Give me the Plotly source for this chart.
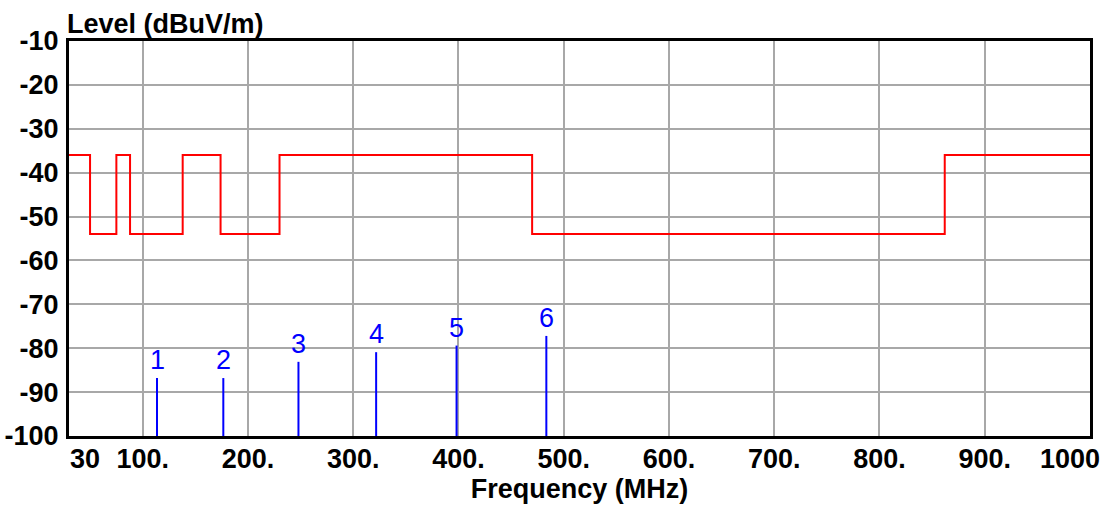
import plotly.graph_objects as go

# Limit line (step): breakpoints in MHz and level from each breakpoint on
limit_freq = [30, 50, 75, 88, 138, 174, 230, 470, 862, 1000]
limit_level = [-36, -54, -36, -54, -36, -54, -36, -54, -36, -36]

# Measured peaks (markers)
marker_ids = ["1", "2", "3", "4", "5", "6"]
marker_freq = [113.6, 176.6, 248.0, 321.8, 398.2, 483.5]
marker_level = [-86.8, -86.8, -83.1, -80.9, -79.4, -77.2]

x_tick_vals = [100, 200, 300, 400, 500, 600, 700, 800, 900]
x_tick_text = ["100.", "200.", "300.", "400.", "500.", "600.", "700.", "800.", "900."]
y_tick_vals = [-10, -20, -30, -40, -50, -60, -70, -80, -90, -100]
y_tick_text = ["-10", "-20", "-30", "-40", "-50", "-60", "-70", "-80", "-90", "-100"]

FONT = "Liberation Sans, Arial, sans-serif"

fig = go.Figure()

fig.add_trace(go.Scatter(
    x=limit_freq, y=limit_level, mode="lines", line_shape="hv",
    line=dict(color="#ff0000", width=2), hoverinfo="skip", showlegend=False))

mx, my = [], []
for f, l in zip(marker_freq, marker_level):
    mx += [f, f, None]
    my += [-100, l, None]
fig.add_trace(go.Scatter(
    x=mx, y=my, mode="lines", line=dict(color="#0000ff", width=2),
    hoverinfo="skip", showlegend=False))

annotations = []
for t, f, l in zip(marker_ids, marker_freq, marker_level):
    annotations.append(dict(x=f, y=l, xref="x", yref="y", text=t, showarrow=False,
                            yanchor="bottom", xanchor="center", yshift=1,
                            font=dict(family=FONT, size=27, color="#0000ff")))
# edge x tick labels
annotations.append(dict(x=30, y=0, xref="x", yref="paper", text="30", showarrow=False,
                        xanchor="left", yanchor="top", yshift=-6, xshift=-1,
                        font=dict(family=FONT, size=27, color="black", weight="bold")))
annotations.append(dict(x=1000, y=0, xref="x", yref="paper", text="1000", showarrow=False,
                        xanchor="right", yanchor="top", yshift=-6, xshift=12,
                        font=dict(family=FONT, size=27, color="black", weight="bold")))
annotations.append(dict(x=0, y=1, xref="paper", yref="paper", text="Level (dBuV/m)",
                        showarrow=False, xanchor="left", yanchor="bottom", xshift=-4, yshift=0,
                        font=dict(family=FONT, size=27, color="black", weight="bold")))

fig.update_layout(
    width=1118, height=510,
    margin=dict(l=69, r=28, t=41, b=74, autoexpand=False),
    paper_bgcolor="white", plot_bgcolor="white",
    font=dict(family=FONT, size=27, color="black"),
    annotations=annotations,
    xaxis=dict(
        range=[30, 1000], tickmode="array", tickvals=x_tick_vals, ticktext=x_tick_text,
        showgrid=True, gridcolor="#a8a8a8", gridwidth=2, zeroline=False,
        showline=True, linecolor="black", linewidth=3, mirror=True, automargin=False,
        ticks="", ticklabelstandoff=-3,
        tickfont=dict(family=FONT, size=27, color="black", weight="bold"),
        title=dict(text="Frequency (MHz)", standoff=5,
                   font=dict(family=FONT, size=27, color="black", weight="bold")),
    ),
    yaxis=dict(
        range=[-100, -10], tickmode="array", tickvals=y_tick_vals, ticktext=y_tick_text,
        showgrid=True, gridcolor="#a8a8a8", gridwidth=2, zeroline=False,
        showline=True, linecolor="black", linewidth=3, mirror=True, automargin=False,
        ticks="", ticklabelstandoff=2,
        tickfont=dict(family=FONT, size=27, color="black", weight="bold"),
    ),
)

fig.write_html("out.html")
